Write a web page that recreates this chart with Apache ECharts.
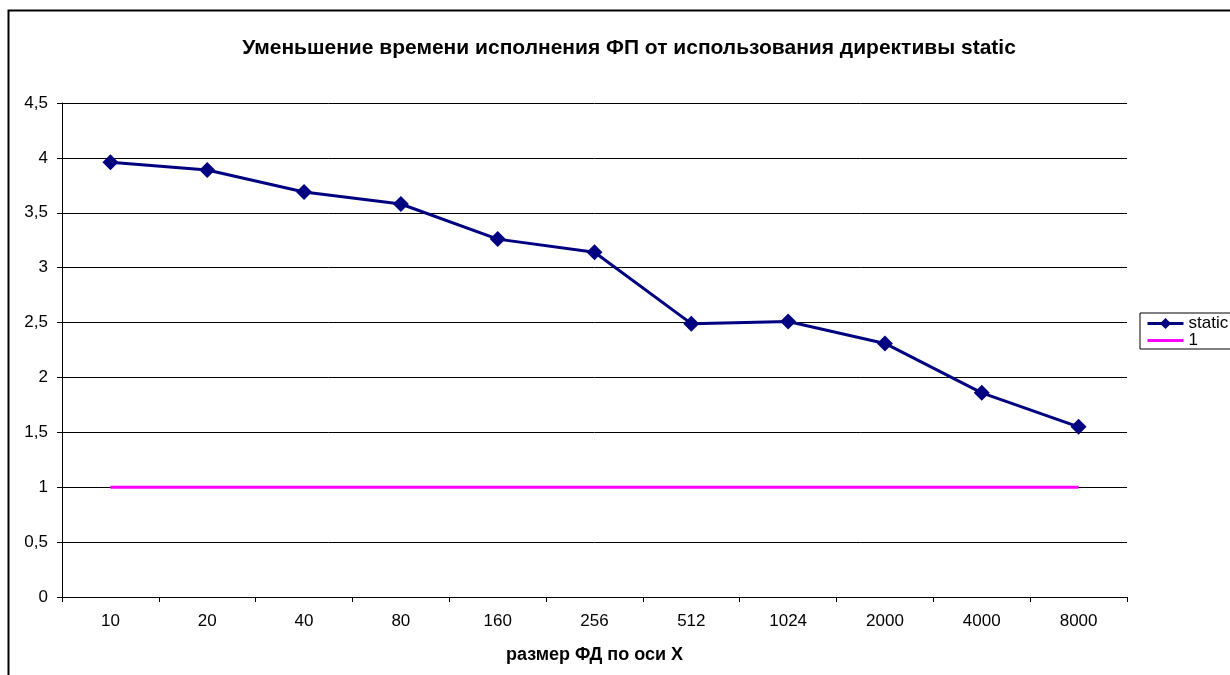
<!DOCTYPE html>
<html>
<head>
<meta charset="utf-8">
<script src="https://cdn.jsdelivr.net/npm/echarts@6/dist/echarts.min.js"></script>
<style>
  html, body { margin: 0; padding: 0; background: #fff; }
  #chart { width: 1230px; height: 675px; }
</style>
</head>
<body>
<div id="chart"></div>
<script>
const categories = ['10', '20', '40', '80', '160', '256', '512', '1024', '2000', '4000', '8000'];
const staticValues = [3.96, 3.89, 3.69, 3.58, 3.26, 3.14, 2.49, 2.51, 2.31, 1.86, 1.55];
const baseValues = [1, 1, 1, 1, 1, 1, 1, 1, 1, 1, 1];
const yTicks = { min: 0, max: 4.5, interval: 0.5 };

const chart = echarts.init(document.getElementById('chart'));
const font = 'Liberation Sans, Arial, sans-serif';

const option = {
  animation: false,
  textStyle: { fontFamily: font },
  title: {
    text: 'Уменьшение времени исполнения ФП от использования директивы static',
    left: 624,
    top: 33,
    textAlign: 'center',
    textStyle: { fontSize: 21, fontWeight: 'bold', color: '#000', fontFamily: font }
  },
  graphic: [{
    type: 'rect',
    shape: { x: 8.5, y: 10.5, width: 1300, height: 800 },
    style: { fill: 'none', stroke: '#000', lineWidth: 2 },
    silent: true
  }],
  legend: {
    orient: 'vertical',
    left: 1140,
    top: 313,
    itemWidth: 36,
    itemHeight: 14,
    itemGap: 0,
    padding: [2, 30, 0, 6],
    borderColor: '#000',
    borderWidth: 1,
    borderRadius: 0,
    textStyle: { fontSize: 17, color: '#000' },
    data: [
      { name: 'static', lineStyle: { width: 3 } },
      { name: '1', lineStyle: { width: 3 }, itemStyle: { opacity: 0 } }
    ]
  },
  grid: { left: 62, right: 103, top: 103, bottom: 78 },
  xAxis: {
    type: 'category',
    data: categories,
    boundaryGap: true,
    name: 'размер ФД по оси X',
    nameLocation: 'middle',
    nameGap: 49,
    nameTextStyle: { fontSize: 18, fontWeight: 'bold', color: '#000' },
    axisLine: { lineStyle: { color: '#000', width: 1 } },
    axisTick: { show: true, length: 5, inside: false, lineStyle: { color: '#000' } },
    axisLabel: { color: '#000', fontSize: 17, margin: 16 },
    splitLine: { show: false }
  },
  yAxis: {
    type: 'value',
    min: yTicks.min,
    max: yTicks.max,
    interval: yTicks.interval,
    axisLine: { show: true, lineStyle: { color: '#000', width: 1 } },
    axisTick: { show: true, length: 5, lineStyle: { color: '#000' } },
    axisLabel: {
      color: '#000',
      fontSize: 17,
      margin: 14,
      formatter: v => String(v).replace('.', ',')
    },
    splitLine: { show: true, lineStyle: { color: '#000', width: 1 } }
  },
  series: [
    {
      name: 'static',
      type: 'line',
      data: staticValues,
      symbol: 'diamond',
      symbolSize: 16,
      lineStyle: { color: '#000080', width: 3 },
      itemStyle: { color: '#000080' },
      z: 3
    },
    {
      name: '1',
      type: 'line',
      data: baseValues,
      symbol: 'none',
      lineStyle: { color: '#FF00FF', width: 3 },
      itemStyle: { color: '#FF00FF' },
      z: 2
    }
  ]
};

chart.setOption(option);
</script>
</body>
</html>
